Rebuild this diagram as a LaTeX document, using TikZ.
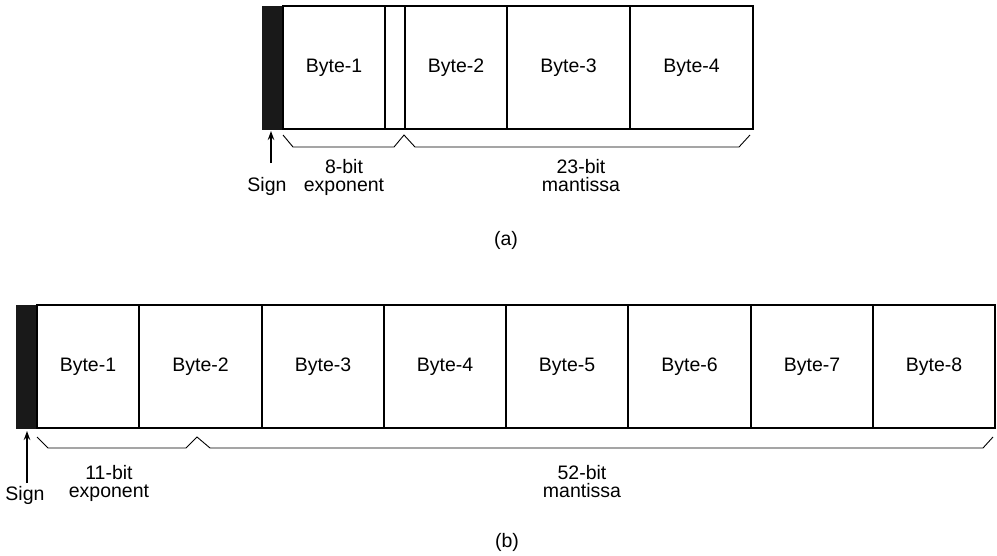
\documentclass[tikz,border=0pt]{standalone}
\usepackage{fontspec}
\setmainfont{Liberation Sans}
\usetikzlibrary{arrows.meta}
\begin{document}
\begin{tikzpicture}[x=1pt,y=-1pt,
  cell/.style={draw, line width=2.6pt, inner sep=0, outer sep=0, minimum height=123pt, anchor=north west, font=\fontsize{19.5}{18}\selectfont},
  signcell/.style={fill=black!90, draw=black!90, line width=1pt, inner sep=0, outer sep=0, minimum height=123pt, minimum width=21pt, anchor=north west},
  brace/.style={line width=0.9pt, line join=miter},
  lbl/.style={align=center, inner sep=0, font=\fontsize{19.5}{18}\selectfont},
  ptr/.style={-{Stealth[length=9pt,width=6.5pt]}, line width=1.2pt}]
\useasboundingbox (0,0) rectangle (997,555);

% ---------- (a) ----------
\node[signcell] (sa) at (262,6) {};
\node[cell, minimum width=102pt] (a1) at (sa.north east) {Byte-1};
\node[cell, minimum width=20pt] (ax) at (a1.north east) {};
\node[cell, minimum width=102pt] (a2) at (ax.north east) {Byte-2};
\node[cell, minimum width=123pt] (a3) at (a2.north east) {Byte-3};
\node[cell, minimum width=123pt] (a4) at (a3.north east) {Byte-4};

\draw[brace] (283,135) -- (293,147) -- (394,147) -- (404,135) -- (415,147) -- (739,147) -- (750,135);

\node[lbl, anchor=base] (signA) at (267,191) {Sign};
\node[lbl, anchor=base] (expA1) at (344,173) {8-bit};
\node[lbl, anchor=base] (expA2) at (344,191) {exponent};
\node[lbl, anchor=base] (manA1) at (581,173) {23-bit};
\node[lbl, anchor=base] (manA2) at (581,191) {mantissa};
\coordinate (tailA) at (271,163);
\coordinate (tipA) at (271,131);
\draw[ptr] (tailA) -- (tipA);

\node[lbl] (capA) at (506,240) {(a)};

% ---------- (b) ----------
\node[signcell] (sb) at (16,305) {};
\node[cell, minimum width=102pt] (b1) at (sb.north east) {Byte-1};
\node[cell, minimum width=123pt] (b2) at (b1.north east) {Byte-2};
\node[cell, minimum width=122pt] (b3) at (b2.north east) {Byte-3};
\node[cell, minimum width=122pt] (b4) at (b3.north east) {Byte-4};
\node[cell, minimum width=122pt] (b5) at (b4.north east) {Byte-5};
\node[cell, minimum width=123pt] (b6) at (b5.north east) {Byte-6};
\node[cell, minimum width=122pt] (b7) at (b6.north east) {Byte-7};
\node[cell, minimum width=122pt] (b8) at (b7.north east) {Byte-8};

\draw[brace] (37,437) -- (48,448) -- (186,448) -- (197,437) -- (210,448) -- (983,448) -- (993,437);

\node[lbl, anchor=base] (signB) at (25,500) {Sign};
\node[lbl, anchor=base] (expB1) at (109,479) {11-bit};
\node[lbl, anchor=base] (expB2) at (109,497) {exponent};
\node[lbl, anchor=base] (manB1) at (582,479) {52-bit};
\node[lbl, anchor=base] (manB2) at (582,497) {mantissa};
\coordinate (tailB) at (27,483);
\coordinate (tipB) at (27,431);
\draw[ptr] (tailB) -- (tipB);

\node[lbl] (capB) at (507,542) {(b)};
\end{tikzpicture}
\end{document}
